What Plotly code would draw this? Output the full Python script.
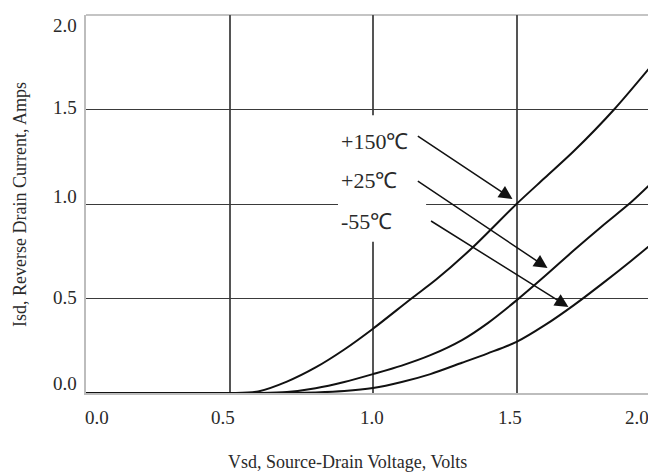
import plotly.graph_objects as go

# ---- data ----
vsd_150 = [0.0, 0.3, 0.5, 0.6, 0.7, 0.8, 0.9, 1.0, 1.134, 1.22, 1.347, 1.5, 1.6, 1.7, 1.84, 1.98]
isd_150 = [0.0, 0.0, 0.0, 0.008, 0.06, 0.135, 0.23, 0.34, 0.5, 0.6, 0.77, 1.0, 1.14, 1.28, 1.5, 1.75]

vsd_25 = [0.0, 0.6, 0.7, 0.8, 0.9, 1.0, 1.1, 1.2, 1.31, 1.4, 1.5, 1.6, 1.7, 1.8, 1.9, 1.97]
isd_25 = [0.0, 0.0, 0.005, 0.025, 0.058, 0.10, 0.145, 0.20, 0.28, 0.37, 0.49, 0.62, 0.755, 0.885, 1.01, 1.11]

vsd_m55 = [0.0, 0.7, 0.8, 0.9, 1.0, 1.1, 1.2, 1.31, 1.4, 1.5, 1.6, 1.7, 1.8, 1.9, 1.98]
isd_m55 = [0.0, 0.0, 0.003, 0.01, 0.026, 0.058, 0.10, 0.16, 0.21, 0.27, 0.36, 0.465, 0.58, 0.70, 0.80]

curve_labels = ["+150℃", "+25℃", "-55℃"]
label_x = [0.881, 0.881, 0.881]
label_y = [1.333, 1.122, 0.910]
arrow_tail_x = [1.151, 1.151, 1.197]
arrow_tail_y = [1.365, 1.127, 0.915]
arrow_tip_x = [1.486, 1.608, 1.681]
arrow_tip_y = [1.026, 0.661, 0.455]

grid_vals = [0.5, 1.0, 1.5]
x_tick_text = ["0.0", "0.5", "1.0", "1.5", "2.0"]
x_tick_pos = [0.037, 0.479, 0.995, 1.479, 1.92]
y_tick_text = ["2.0", "1.5", "1.0", "0.5", "0.0"]
y_tick_pos = [1.947, 1.508, 1.042, 0.503, 0.048]

x_title = "Vsd, Source-Drain Voltage, Volts"
y_title = "Isd, Reverse Drain Current, Amps"

FONT = "Liberation Serif, Times New Roman, serif"
TXT = "#2a2a2a"

# page has an 8px body margin: lay the figure out 8px smaller
OFF = 8
W, H = 656 - OFF, 474 - OFF
L, R, T, B = 86 - OFF, 0, 15 - OFF, 474 - 393
pw, ph = W - L - R, H - T - B


def px_x(p):
    return (p - OFF - L) / pw


def px_y(p):
    return (H - (p - OFF) - B) / ph


fig = go.Figure()
for xs, ys in [(vsd_150, isd_150), (vsd_25, isd_25), (vsd_m55, isd_m55)]:
    fig.add_trace(go.Scatter(x=xs, y=ys, mode="lines",
                             line=dict(color="#111111", width=2, shape="spline", smoothing=0.8),
                             showlegend=False, hoverinfo="skip"))

annotations = []
for t, p in zip(x_tick_text, x_tick_pos):
    annotations.append(dict(x=p, y=px_y(417), xref="x", yref="paper", text=t, showarrow=False,
                            xanchor="center", yanchor="middle",
                            font=dict(family=FONT, size=19, color=TXT)))
for t, p in zip(y_tick_text, y_tick_pos):
    annotations.append(dict(x=px_x(79), y=p, xref="paper", yref="y", text=t, showarrow=False,
                            xanchor="right", yanchor="middle",
                            font=dict(family=FONT, size=19, color=TXT)))
annotations.append(dict(x=px_x(347), y=px_y(462), xref="paper", yref="paper", text=x_title,
                        showarrow=False, xanchor="center", yanchor="middle",
                        font=dict(family=FONT, size=18, color=TXT)))
annotations.append(dict(x=px_x(20), y=px_y(205), xref="paper", yref="paper",
                        text=y_title, textangle=-90, showarrow=False,
                        xanchor="center", yanchor="middle",
                        font=dict(family=FONT, size=18, color=TXT)))
for t, lx, ly in zip(curve_labels, label_x, label_y):
    annotations.append(dict(x=lx, y=ly, xref="x", yref="y", text=t, showarrow=False,
                            xanchor="left", yanchor="middle",
                            font=dict(family=FONT, size=22, color=TXT)))
for tx, ty, hx, hy in zip(arrow_tail_x, arrow_tail_y, arrow_tip_x, arrow_tip_y):
    annotations.append(dict(x=hx, y=hy, ax=tx, ay=ty, xref="x", yref="y", axref="x", ayref="y",
                            text="", showarrow=True, arrowhead=2, arrowsize=1.8,
                            arrowwidth=1.5, arrowcolor="#111111", standoff=0, startstandoff=0))

shapes = [
    # white box behind the temperature labels
    dict(type="rect", xref="x", yref="y", x0=0.878, x1=1.185, y0=0.80, y1=1.47,
         fillcolor="white", line=dict(width=0), layer="between"),
    # top border
    dict(type="line", xref="paper", yref="paper", x0=0, x1=1, y0=1.0, y1=1.0,
         line=dict(color="#c4c4c4", width=2), layer="below"),
]

fig.update_layout(
    width=W, height=H,
    margin=dict(l=L, r=R, t=T, b=B),
    paper_bgcolor="white", plot_bgcolor="white",
    xaxis=dict(range=[0, pw / 287.0], tickvals=grid_vals, showticklabels=False,
               showgrid=True, gridcolor="#555555", gridwidth=1.8, zeroline=False,
               showline=True, linecolor="#bdbdbd", linewidth=2, ticks=""),
    yaxis=dict(range=[0, ph / 189.0], tickvals=grid_vals, showticklabels=False,
               showgrid=True, gridcolor="#3a3a3a", gridwidth=1.4, zeroline=False,
               showline=True, linecolor="#bdbdbd", linewidth=2, ticks=""),
    annotations=annotations,
    shapes=shapes,
)

fig.write_html("out.html")
